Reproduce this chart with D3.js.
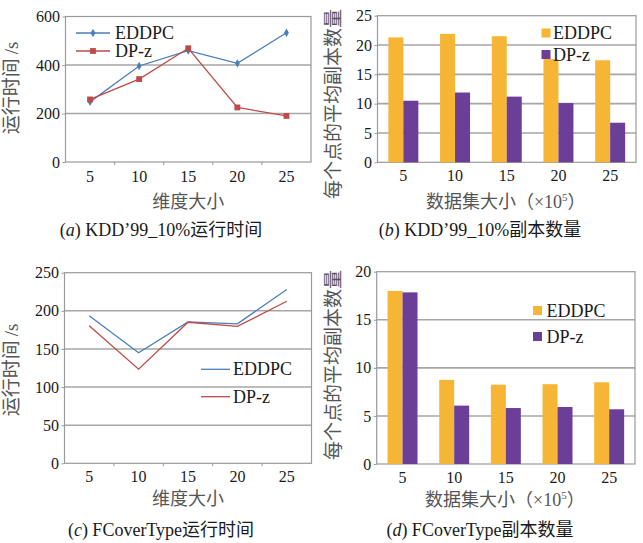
<!DOCTYPE html>
<html><head><meta charset="utf-8">
<script src="https://cdn.jsdelivr.net/npm/d3@7"></script>
<style>
body{margin:0;background:#fff;}
svg{display:block;}
text{font-family:"Liberation Serif","Noto Sans CJK SC",serif;}
</style></head>
<body><svg id="c" width="643" height="543"></svg>
<script>
// ---- data ----
const dims = ["5","10","15","20","25"];
const sizes = ["5","10","15","20","25"];
const seriesNames = ["EDDPC","DP-z"];
// (a) KDD'99_10% running time (s)
const aEDDPC = [248, 396, 459, 407, 533];
const aDPz   = [258, 342, 469, 225, 190];
const aTicks = [0, 200, 400, 600];
// (b) KDD'99_10% replica count
const bEDDPC = [21.3, 21.9, 21.5, 17.6, 17.4];
const bDPz   = [10.5, 11.9, 11.2, 10.1, 6.75];
const bTicks = [0, 5, 10, 15, 20, 25];
// (c) FCoverType running time (s)
const cEDDPC = [193.5, 145, 185.5, 183, 228];
const cDPz   = [180.5, 123.5, 185, 179.5, 212.5];
const cTicks = [0, 50, 100, 150, 200, 250];
// (d) FCoverType replica count
const dEDDPC = [18.0, 8.75, 8.25, 8.3, 8.5];
const dDPz   = [17.85, 6.07, 5.82, 5.93, 5.69];
const dTicks = [0, 5, 10, 15, 20];

const BLUE="#4a7ebb", RED="#be4b48", YEL="#f6b535", PUR="#6b3e98";
const GRID="#a6a6a6", BORDER="#9a9a9a", TXT="#1a1a1a", TTL="#555";
const FONT = "'Liberation Serif','Noto Sans CJK SC',serif";

const svg = d3.select("#c");

function frame(g, x0, x1, y, ticks, xTickBoundaries, band) {
  g.selectAll(".grid").data(ticks.slice(1, -1)).join("line")
    .attr("x1", x0).attr("x2", x1).attr("y1", d => y(d)).attr("y2", d => y(d))
    .attr("stroke", GRID).attr("stroke-width", 1.6);
  g.append("rect").attr("x", x0).attr("y", y(ticks[ticks.length-1]))
    .attr("width", x1 - x0).attr("height", y(0) - y(ticks[ticks.length-1]))
    .attr("fill", "none").attr("stroke", BORDER).attr("stroke-width", 1.2);
  const ax = g.append("g").attr("transform", `translate(${x0},0)`)
    .call(d3.axisLeft(y).tickValues(ticks).tickSize(3).tickPadding(2.5));
  ax.attr("font-family", FONT).attr("font-size", 16);
  ax.select(".domain").remove();
  ax.selectAll(".tick line").attr("stroke", BORDER);
  ax.selectAll(".tick text").attr("font-size", 16).attr("fill", TXT).style("font-family", FONT);
  if (xTickBoundaries) {
    const step = band.step();
    g.selectAll(".xt").data(d3.range(1, band.domain().length)).join("line")
      .attr("x1", d => x0 + d*step).attr("x2", d => x0 + d*step)
      .attr("y1", y(0)).attr("y2", y(0) + 3).attr("stroke", BORDER);
  }
}

function xLabels(g, cats, xc, yPos) {
  g.selectAll(".xl").data(cats).join("text")
    .attr("x", d => xc(d)).attr("y", yPos).attr("text-anchor", "middle")
    .attr("font-size", 16).attr("fill", TXT).text(d => d);
}

function titles(g, o, xTitle, yTitle, yTail, sup) {
  const t = g.append("text").attr("x", (o.x0 + o.x1)/2 + (sup ? -1 : 0)).attr("y", o.yb + o.xtOff).attr("text-anchor", "middle")
    .attr("font-size", 18).attr("fill", TTL);
  t.append("tspan").text(xTitle);
  if (sup) {
    t.append("tspan").attr("dy", -7).attr("font-size", 11).text("5");
    t.append("tspan").attr("dy", 7).text("）");
  }
  const yt = g.append("text").attr("transform", `translate(${o.ytX},${o.ytY}) rotate(-90)`)
    .attr("text-anchor", "middle").attr("font-size", 19).attr("fill", TTL);
  yt.append("tspan").text(yTitle);
  if (yTail) yt.append("tspan").attr("dx", 4).text(yTail);
  const c = g.append("text").attr("x", o.capX).attr("y", o.capY).attr("text-anchor", "middle")
    .attr("font-size", 18).attr("fill", TXT);
  c.append("tspan").text("(");
  c.append("tspan").attr("font-style", "italic").text(o.cap[0]);
  c.append("tspan").text(") " + o.cap[1]);
}

function linePanel(opts) {
  const g = svg.append("g");
  const x = d3.scalePoint().domain(opts.cats).range([opts.x0, opts.x1]).padding(0.5);
  const band = d3.scaleBand().domain(opts.cats).range([opts.x0, opts.x1]);
  const y = d3.scaleLinear().domain([0, opts.ticks[opts.ticks.length-1]]).range([opts.yb, opts.yt]);
  frame(g, opts.x0, opts.x1, y, opts.ticks, true, band);
  const line = d3.line().x((d, i) => x(opts.cats[i])).y(d => y(d));
  const series = [{v: opts.s1, c: BLUE, m: "diamond"}, {v: opts.s2, c: RED, m: "square"}];
  const symFor = s => d3.symbol().type(s.m === "diamond" ? d3.symbolDiamond : d3.symbolSquare).size(s.m === "diamond" ? 20 : 34);
  series.forEach(s => {
    g.append("path").attr("d", line(s.v)).attr("fill", "none").attr("stroke", s.c).attr("stroke-width", 1.3);
    if (opts.markers) {
      g.selectAll(null).data(s.v).join("path")
        .attr("transform", (d, i) => `translate(${x(opts.cats[i])},${y(d)})`)
        .attr("d", symFor(s)()).attr("fill", s.c);
    }
  });
  series.forEach((s, i) => {
    const ly = opts.legY[i];
    g.append("line").attr("x1", opts.legX[0]).attr("x2", opts.legX[1]).attr("y1", ly).attr("y2", ly)
      .attr("stroke", s.c).attr("stroke-width", 1.3);
    if (opts.markers) {
      g.append("path").attr("transform", `translate(${(opts.legX[0]+opts.legX[1])/2},${ly})`).attr("d", symFor(s)()).attr("fill", s.c);
    }
    g.append("text").attr("x", opts.legX[2]).attr("y", ly + 6).attr("font-size", 18).attr("fill", TXT).text(seriesNames[i]);
  });
  xLabels(g, opts.cats, d => x(d), opts.yb + opts.xlOff);
  titles(g, opts, "维度大小", "运行时间", "/s", false);
}

function barPanel(opts) {
  const g = svg.append("g");
  const band = d3.scaleBand().domain(opts.cats).range([opts.x0, opts.x1]).paddingInner(0.42).paddingOuter(0.21);
  const full = d3.scaleBand().domain(opts.cats).range([opts.x0, opts.x1]);
  const sub = d3.scaleBand().domain(seriesNames).range([0, band.bandwidth()]);
  const y = d3.scaleLinear().domain([0, opts.ticks[opts.ticks.length-1]]).range([opts.yb, opts.yt]);
  frame(g, opts.x0, opts.x1, y, opts.ticks, false, full);
  const cols = [YEL, PUR];
  opts.cats.forEach((c, i) => {
    [opts.s1[i], opts.s2[i]].forEach((v, j) => {
      g.append("rect").attr("x", band(c) + sub(seriesNames[j])).attr("y", y(v))
        .attr("width", sub.bandwidth()).attr("height", y(0) - y(v)).attr("fill", cols[j]);
    });
  });
  seriesNames.forEach((n, i) => {
    const ly = opts.legY[i];
    g.append("rect").attr("x", opts.legX[0]).attr("y", ly - 4.5).attr("width", 9).attr("height", 9).attr("fill", cols[i]);
    g.append("text").attr("x", opts.legX[1]).attr("y", ly + 6).attr("font-size", 18).attr("fill", TXT).text(n);
  });
  xLabels(g, opts.cats, d => full(d) + full.bandwidth()/2, opts.yb + opts.xlOff);
  titles(g, opts, "数据集大小（×10", "每个点的平均副本数量", null, true);
}

linePanel({cats: dims, s1: aEDDPC, s2: aDPz, ticks: aTicks, x0: 65.5, x1: 311, yt: 16.5, yb: 162,
  markers: true, legY: [33, 51], legX: [76, 110, 115], cap: ["a", "KDD’99_10%运行时间"], capX: 161,
  xlOff: 19.5, xtOff: 46, capY: 236, ytX: 18, ytY: 88});
barPanel({cats: sizes, s1: bEDDPC, s2: bDPz, ticks: bTicks, x0: 377.5, x1: 636, yt: 15.7, yb: 162.3,
  legY: [33, 54.5], legX: [541.5, 553], cap: ["b", "KDD’99_10%副本数量"], capX: 480,
  xlOff: 18.5, xtOff: 46, capY: 236, ytX: 340, ytY: 104});
linePanel({cats: dims, s1: cEDDPC, s2: cDPz, ticks: cTicks, x0: 64.5, x1: 311.5, yt: 272.7, yb: 463.3,
  markers: false, legY: [369.3, 396.7], legX: [201, 230, 233], cap: ["c", "FCoverType运行时间"], capX: 161,
  xlOff: 19, xtOff: 42, capY: 536, ytX: 18, ytY: 370});
barPanel({cats: sizes, s1: dEDDPC, s2: dDPz, ticks: dTicks, x0: 376.7, x1: 635, yt: 271.7, yb: 464,
  legY: [310.5, 336.5], legX: [533, 546.5], cap: ["d", "FCoverType副本数量"], capX: 480,
  xlOff: 18.5, xtOff: 42, capY: 536, ytX: 340, ytY: 365});
</script></body></html>
